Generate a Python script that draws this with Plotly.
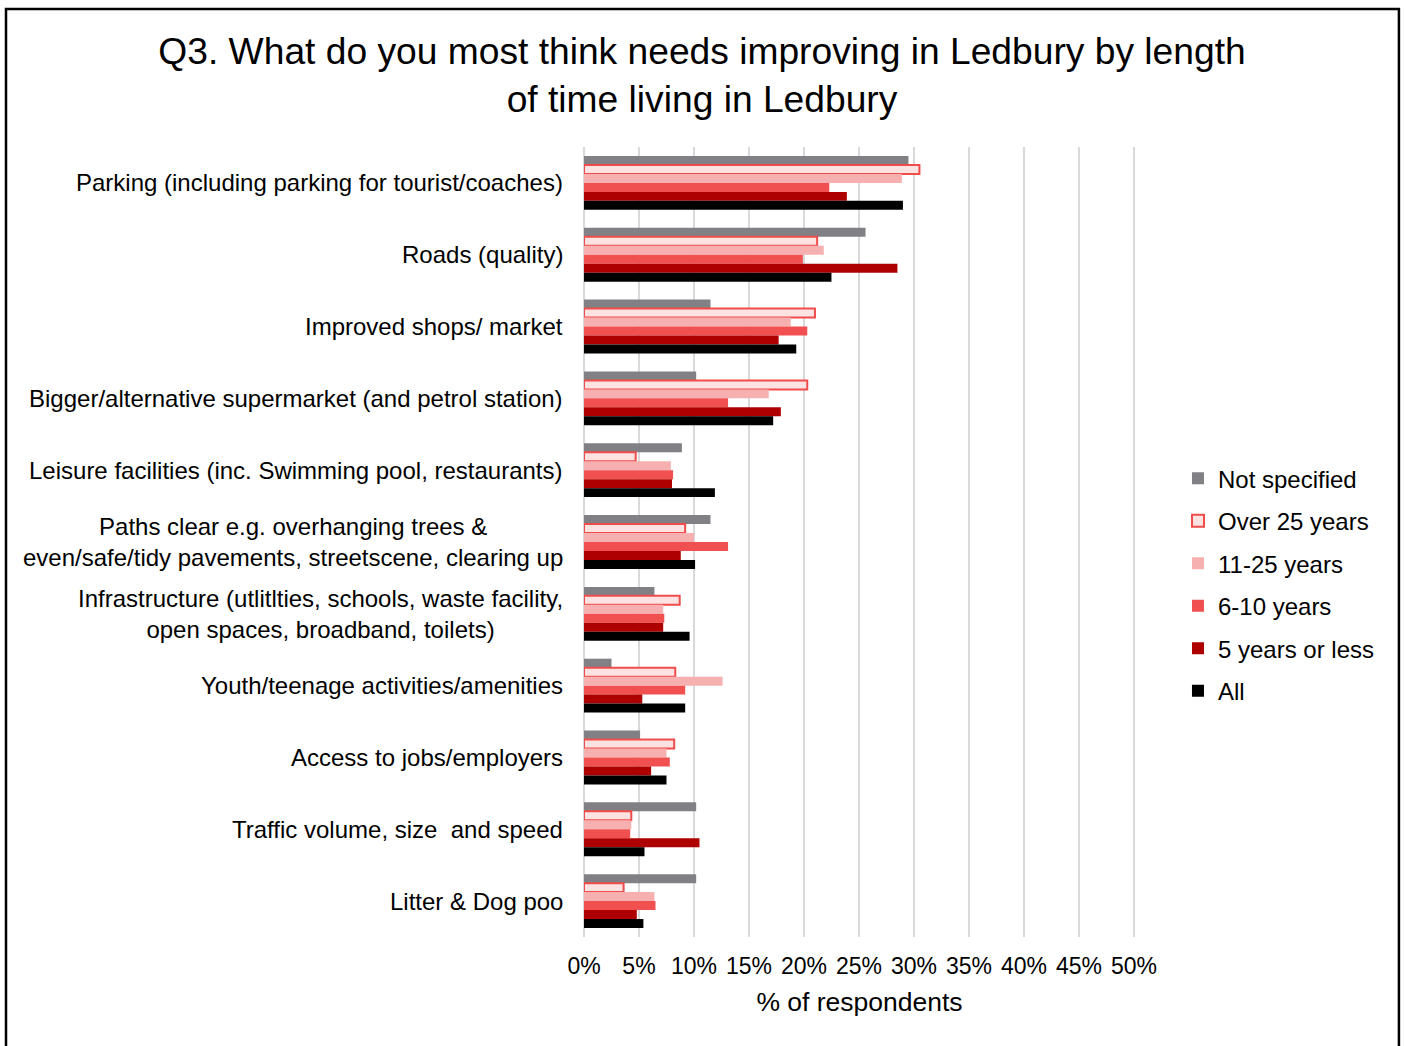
import plotly.graph_objects as go

# Improvement areas (top to bottom) and share of respondents per residence-length group
categories = [
    "Parking (including parking for tourist/coaches)",
    "Roads (quality)",
    "Improved shops/ market",
    "Bigger/alternative supermarket (and petrol station)",
    "Leisure facilities (inc. Swimming pool, restaurants)",
    "Paths clear e.g. overhanging trees &<br>even/safe/tidy pavements, streetscene, clearing up",
    "Infrastructure (utlitlties, schools, waste facility,<br>open spaces, broadband, toilets)",
    "Youth/teenage activities/amenities",
    "Access to jobs/employers",
    "Traffic volume, size  and speed",
    "Litter & Dog poo",
]

not_specified = [29.5, 25.6, 11.5, 10.2, 8.9, 11.5, 6.4, 2.5, 5.1, 10.2, 10.2]
over_25_years = [30.5, 21.2, 21.0, 20.3, 4.7, 9.2, 8.7, 8.3, 8.2, 4.3, 3.6]
years_11_25 = [28.9, 21.8, 18.8, 16.8, 7.9, 10.0, 7.2, 12.6, 7.5, 4.3, 6.4]
years_6_10 = [22.3, 19.9, 20.3, 13.1, 8.1, 13.1, 7.3, 9.2, 7.8, 4.2, 6.5]
years_5_or_less = [23.9, 28.5, 17.7, 17.9, 8.0, 8.8, 7.2, 5.3, 6.1, 10.5, 4.8]
all_respondents = [29.0, 22.5, 19.3, 17.2, 11.9, 10.1, 9.6, 9.2, 7.5, 5.5, 5.4]

x_ticks = [0, 5, 10, 15, 20, 25, 30, 35, 40, 45, 50]

series = [
    ("Not specified", not_specified, "#818185", None),
    ("Over 25 years", over_25_years, "#fde2e2", "#f04c4c"),
    ("11-25 years", years_11_25, "#f7b0b0", None),
    ("6-10 years", years_6_10, "#f05050", None),
    ("5 years or less", years_5_or_less, "#af0000", None),
    ("All", all_respondents, "#000000", None),
]

FONT = "Liberation Sans, Arial, sans-serif"

fig = go.Figure()
for name, vals, fill, edge in series:
    fig.add_trace(go.Bar(
        name=name,
        y=categories,
        x=[v / 100 for v in vals],
        orientation="h",
        legendgroup=name,
        marker=dict(
            color=fill,
            line=dict(color=edge if edge else fill, width=2 if edge else 0),
        ),
    ))

# Category labels, centred line by line to the left of the plot
for cat in categories:
    fig.add_annotation(
        x=0, xref="paper", y=cat, yref="y",
        text=cat, showarrow=False,
        xanchor="right", yanchor="middle", align="center",
        xshift=-19,
        font=dict(family=FONT, size=24, color="#000000"),
    )

# Outer chart frame
fig.add_shape(
    type="rect", xref="paper", yref="paper",
    x0=-1.049, x1=1.479, y0=-0.1456, y1=1.1747,
    line=dict(color="#000000", width=2.5), fillcolor="rgba(0,0,0,0)",
)

fig.update_layout(
    width=1404, height=1046,
    margin=dict(l=584, r=269, t=147, b=109),
    paper_bgcolor="white", plot_bgcolor="white",
    barmode="group", bargap=0.25, bargroupgap=0,
    font=dict(family=FONT, color="#000000"),
    title=dict(
        text="Q3. What do you most think needs improving in Ledbury by length<br>of time living in Ledbury",
        x=0.5, xanchor="center", y=0.939, yanchor="top",
        font=dict(family=FONT, size=37.2, color="#000000"),
    ),
    xaxis=dict(
        range=[0, 0.501],
        tickvals=[t / 100 for t in x_ticks],
        ticktext=[f"{t}%" for t in x_ticks],
        showgrid=True, gridcolor="#d9d9d9", gridwidth=2,
        zeroline=True, zerolinecolor="#d9d9d9", zerolinewidth=2,
        showline=False, ticks="", ticklabelstandoff=13,
        tickfont=dict(family=FONT, size=23, color="#000000"),
        title=dict(text="% of respondents", standoff=14,
                   font=dict(family=FONT, size=26.5, color="#000000")),
    ),
    yaxis=dict(
        autorange="reversed",
        showticklabels=False, showgrid=False, zeroline=False, ticks="",
    ),
    legend=dict(
        x=1.078, xanchor="left", y=0.446, yanchor="middle",
        font=dict(family=FONT, size=24, color="#000000"),
        tracegroupgap=8.3, traceorder="grouped",
        bgcolor="rgba(0,0,0,0)",
    ),
)

fig.write_html("out.html")
